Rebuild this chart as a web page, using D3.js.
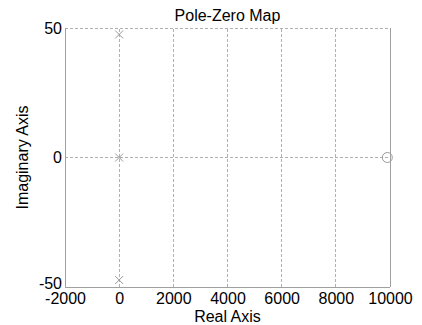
<!DOCTYPE html>
<html>
<head>
<meta charset="utf-8">
<script src="https://cdn.jsdelivr.net/npm/d3@7"></script>
<style>
  html, body { margin: 0; padding: 0; background: #fff; }
  svg { display: block; font-family: "Liberation Sans", Arial, sans-serif; }
</style>
</head>
<body>
<svg id="chart" width="422" height="325"></svg>
<script>
// Pole and zero locations (real, imaginary)
const poleReal = [0, 0, 0];
const poleImag = [47.5, 0, -47.3];
const zeroReal = [9900];
const zeroImag = [0];

const xTicks = [-2000, 0, 2000, 4000, 6000, 8000, 10000];
const yTicks = [-50, 0, 50];
const xDomain = [-2000, 10000];
const yDomain = [-50, 50];

const margin = { left: 65, right: 32, top: 28, bottom: 38 };
const W = 422, H = 325;
const FONT = "Liberation Sans, Arial, sans-serif";
const fmt = d => String(d); // plain hyphen-minus for negatives

const svg = d3.select("#chart");
const x = d3.scaleLinear().domain(xDomain).range([margin.left, W - margin.right]);
const y = d3.scaleLinear().domain(yDomain).range([H - margin.bottom, margin.top]);

const gridColor = "#b0b0b0";
const axisColor = "#a0a0a0";
const markColor = "#9a9a9a";

// grid lines
const grid = svg.append("g");
grid.selectAll("line.vx").data(xTicks.filter(d => d > xDomain[0] && d < xDomain[1]))
  .join("line")
  .attr("x1", d => x(d)).attr("x2", d => x(d))
  .attr("y1", y(yDomain[0])).attr("y2", y(yDomain[1]))
  .attr("stroke", gridColor).attr("stroke-width", 1).attr("stroke-dasharray", "3,2")
  .attr("shape-rendering", "crispEdges");
grid.selectAll("line.hy").data(yTicks.filter(d => d > yDomain[0]))
  .join("line")
  .attr("x1", x(xDomain[0])).attr("x2", x(xDomain[1]))
  .attr("y1", d => y(d)).attr("y2", d => y(d))
  .attr("stroke", gridColor).attr("stroke-width", 1).attr("stroke-dasharray", "3,2")
  .attr("shape-rendering", "crispEdges");

// box: left, bottom, right solid
const box = svg.append("g").attr("stroke", axisColor).attr("stroke-width", 1).attr("shape-rendering", "crispEdges");
box.append("line").attr("x1", x(xDomain[0])).attr("x2", x(xDomain[0])).attr("y1", y(yDomain[0])).attr("y2", y(yDomain[1]));
box.append("line").attr("x1", x(xDomain[0])).attr("x2", x(xDomain[1])).attr("y1", y(yDomain[0])).attr("y2", y(yDomain[0]));
box.append("line").attr("x1", x(xDomain[1])).attr("x2", x(xDomain[1])).attr("y1", y(yDomain[0])).attr("y2", y(yDomain[1]));

// axes tick labels
const xAxis = d3.axisBottom(x).tickValues(xTicks).tickSize(0).tickPadding(6).tickFormat(fmt);
const gx = svg.append("g").attr("transform", `translate(0,${y(yDomain[0])})`).call(xAxis);
gx.select(".domain").remove();
gx.selectAll("text").attr("font-size", 16).attr("fill", "#000").attr("font-family", FONT);

const yAxis = d3.axisLeft(y).tickValues(yTicks).tickSize(0).tickPadding(3).tickFormat(fmt);
const gy = svg.append("g").attr("transform", `translate(${x(xDomain[0])},0)`).call(yAxis);
gy.select(".domain").remove();
gy.selectAll("text").attr("font-size", 16).attr("fill", "#000").attr("font-family", FONT)
  .attr("dy", d => d === yDomain[0] ? "0.08em" : "0.32em");

// poles (x markers)
const s = 4;
const poles = poleReal.map((r, i) => ({ r, im: poleImag[i] }));
const pg = svg.append("g").attr("stroke", markColor).attr("stroke-width", 1).attr("fill", "none");
poles.forEach(p => {
  const cx = x(p.r), cy = y(p.im);
  pg.append("path").attr("d", `M${cx - s},${cy - s}L${cx + s},${cy + s}M${cx - s},${cy + s}L${cx + s},${cy - s}`);
});

// zeros (circles)
const zeros = zeroReal.map((r, i) => ({ r, im: zeroImag[i] }));
svg.append("g").selectAll("circle").data(zeros).join("circle")
  .attr("cx", d => x(d.r)).attr("cy", d => y(d.im)).attr("r", 5)
  .attr("fill", "none").attr("stroke", markColor).attr("stroke-width", 1);

// titles
const cxMid = (x(xDomain[0]) + x(xDomain[1])) / 2;
svg.append("text").attr("x", cxMid).attr("y", 21)
  .attr("text-anchor", "middle").attr("font-size", 16).text("Pole-Zero Map");
svg.append("text").attr("x", cxMid).attr("y", 322)
  .attr("text-anchor", "middle").attr("font-size", 16).text("Real Axis");
svg.append("text")
  .attr("transform", `translate(28,${(y(yDomain[0]) + y(yDomain[1])) / 2}) rotate(-90)`)
  .attr("text-anchor", "middle").attr("font-size", 16).text("Imaginary Axis");
</script>
</body>
</html>
